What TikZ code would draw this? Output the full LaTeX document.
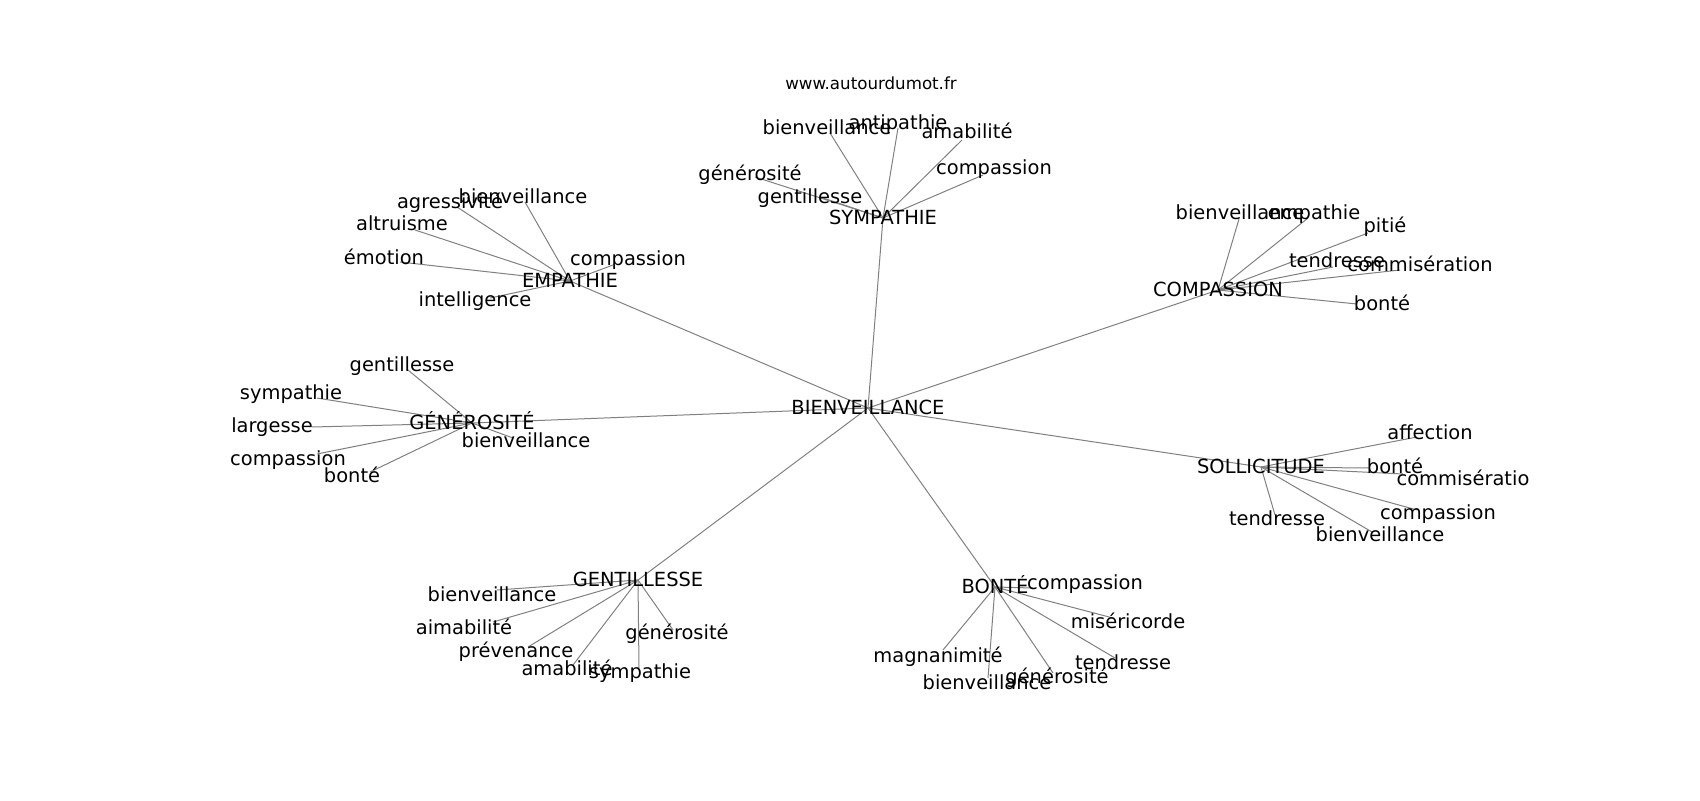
\documentclass[tikz,border=0pt]{standalone}
\usepackage{fontspec}
\setmainfont{DejaVu Sans}
\usetikzlibrary{backgrounds}

\begin{document}
\begin{tikzpicture}[x=0.72pt,y=-0.72pt,
        mot/.style={font=\fontsize{14}{17}\selectfont,inner sep=0pt,text height=1em,text depth=0.08em},
        lien/.style={draw=gray,line width=0.72pt}]
        \useasboundingbox (0,0) rectangle (1700,800);

        % Titre
        \node[font=\fontsize{12}{14}\selectfont,inner sep=0pt] (titre) at (871,83) {www.autourdumot.fr};

        % Mot central et mots voisins
        \node[mot] (bienv) at (868,408) {BIENVEILLANCE};
        \node[mot] (emp) at (570,281) {EMPATHIE};
        \node[mot] (symp) at (883,218) {SYMPATHIE};
        \node[mot] (comp) at (1218,290) {COMPASSION};
        \node[mot] (soll) at (1261,467) {SOLLICITUDE};
        \node[mot] (bon) at (995,587) {BONTÉ};
        \node[mot] (gent) at (638,580) {GENTILLESSE};
        \node[mot] (gene) at (472,423) {GÉNÉROSITÉ};

        % Liens du centre
        \begin{scope}[on background layer]
            \foreach \h in {emp,symp,comp,soll,bon,gent,gene}
                \draw[lien] (bienv.center) -- (\h.center);
        \end{scope}

        % Mots autour de chaque voisin : point, etiquette, texte
        \foreach \h/\n/\px/\py/\lx/\ly/\t in {
            emp/agr/457/207/450/202/agressivité, emp/bien/525/202/523/197/bienveillance,
            emp/alt/415/230/402/224/altruisme, emp/emo/400/262/384/258/émotion,
            emp/comp/613/265/628/259/compassion, emp/int/490/298/475/300/intelligence,
            symp/bien/830/133/827/128/bienveillance, symp/anti/898/128/898/123/antipathie,
            symp/ama/962/140/967/132/amabilité, symp/comp/983/175/994/168/compassion,
            symp/gene/755/177/750/174/générosité, symp/gent/820/197/810/197/gentillesse,
            comp/bien/1239/219/1240/213/bienveillance, comp/emp/1308/218/1314/213/empathie,
            comp/pit/1368/233/1385/226/pitié, comp/tend/1333/267/1337/261/tendresse,
            comp/comm/1400/270/1420/265/commisération, comp/bon/1357/304/1382/304/bonté,
            soll/aff/1417/437/1430/433/affection, soll/bon/1370/468/1395/467/bonté,
            soll/comm/1403/474/1463/479/commisératio, soll/comp/1417/510/1438/513/compassion,
            soll/tend/1275/515/1277/519/tendresse, soll/bien/1372/532/1380/535/bienveillance,
            bon/comp/1033/588/1085/583/compassion, bon/mis/1113/618/1128/622/miséricorde,
            bon/mag/943/650/938/656/magnanimité, bon/tend/1115/658/1123/663/tendresse,
            bon/gene/1053/673/1057/677/générosité, bon/bien/988/678/987/683/bienveillance,
            gent/bien/497/590/492/595/bienveillance, gent/aim/493/622/464/628/aimabilité,
            gent/prev/528/647/516/651/prévenance, gent/ama/573/665/567/669/amabilité,
            gent/symp/639/668/640/672/sympathie, gent/gene/673/630/677/633/générosité,
            gene/gent/408/370/402/365/gentillesse, gene/symp/317/398/291/393/sympathie,
            gene/larg/312/427/272/426/largesse, gene/comp/317/454/288/459/compassion,
            gene/bon/370/472/352/476/bonté, gene/bien/513/438/526/441/bienveillance}{
            \coordinate (\h-\n) at (\px,\py);
            \node[mot] (\h-\n-t) at (\lx,\ly) {\t};
            \begin{scope}[on background layer]
                \draw[lien] (\h.center) -- (\h-\n);
            \end{scope}
        }
\end{tikzpicture}
\end{document}
